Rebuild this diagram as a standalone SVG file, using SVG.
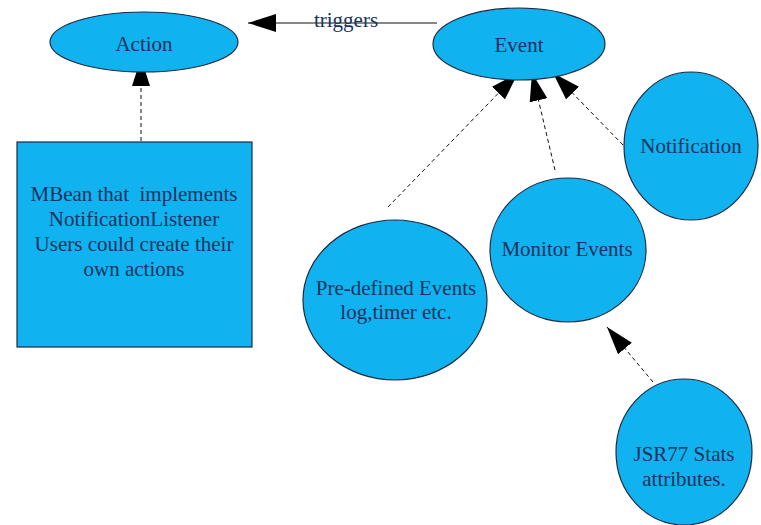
<svg xmlns="http://www.w3.org/2000/svg" width="761" height="525" viewBox="0 0 761 525">
<style>
.node{fill:#10b2ef;stroke:#1c2b45;stroke-width:1.2}
.lbl{font-family:"Liberation Serif","Times New Roman",serif;font-size:21px;fill:#173361;text-anchor:middle;white-space:pre}
.edge{stroke:#111;stroke-width:1;fill:none}
.dash{stroke-dasharray:4 3}
</style>
<defs>
<marker id="ah" markerUnits="userSpaceOnUse" markerWidth="28" markerHeight="18" refX="28" refY="9" orient="auto">
<path d="M0,0 L28,9 L0,18 z" fill="#000" stroke="none"/>
</marker>
</defs>
<rect width="761" height="525" fill="#fff"/>
<g id="connectors">
<line class="edge" x1="437" y1="23" x2="248" y2="23" marker-end="url(#ah)"/>
<line class="edge dash" x1="141" y1="141" x2="141" y2="58" marker-end="url(#ah)"/>
<line class="edge dash" x1="388" y1="207" x2="518" y2="73" marker-end="url(#ah)"/>
<line class="edge dash" x1="555" y1="170" x2="532" y2="73" marker-end="url(#ah)"/>
<line class="edge dash" x1="623" y1="145" x2="553" y2="73" marker-end="url(#ah)"/>
<line class="edge dash" x1="653" y1="382" x2="607" y2="327" marker-end="url(#ah)"/>
<text class="lbl" x="346" y="27">triggers</text>
</g>
<g id="action">
<ellipse class="node" cx="144" cy="42" rx="94" ry="30"/>
<text class="lbl" x="144" y="51">Action</text>
</g>
<g id="event">
<ellipse class="node" cx="519" cy="44" rx="86" ry="36"/>
<text class="lbl" x="519" y="52">Event</text>
</g>
<g id="mbean">
<rect class="node" x="17" y="142" width="235" height="205"/>
<text class="lbl" x="134" y="201" xml:space="preserve">MBean that  implements</text>
<text class="lbl" x="134" y="226">NotificationListener</text>
<text class="lbl" x="134" y="251">Users could create their</text>
<text class="lbl" x="134" y="276">own actions</text>
</g>
<g id="predefined">
<ellipse class="node" cx="395" cy="300" rx="92" ry="80"/>
<text class="lbl" x="396" y="295">Pre-defined Events</text>
<text class="lbl" x="396" y="319">log,timer etc.</text>
</g>
<g id="monitor">
<ellipse class="node" cx="568" cy="250" rx="78" ry="72"/>
<text class="lbl" x="567" y="256">Monitor Events</text>
</g>
<g id="notification">
<ellipse class="node" cx="691" cy="146" rx="67" ry="74"/>
<text class="lbl" x="691" y="153">Notification</text>
</g>
<g id="jsr77">
<ellipse class="node" cx="684" cy="452" rx="68" ry="73"/>
<text class="lbl" x="684" y="461">JSR77 Stats</text>
<text class="lbl" x="684" y="486">attributes.</text>
</g>
</svg>
